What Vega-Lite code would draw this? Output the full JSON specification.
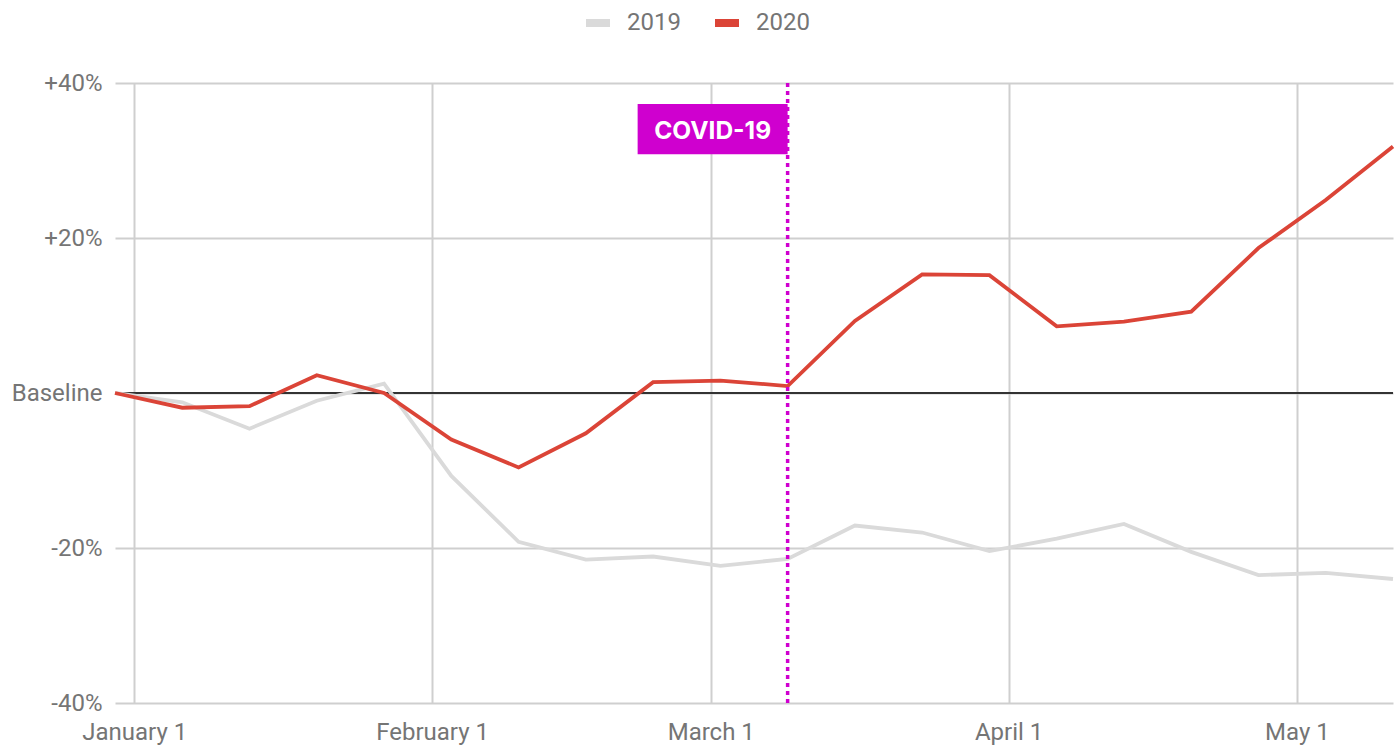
{
  "$schema": "https://vega.github.io/schema/vega-lite/v6.json",
  "width": 1278,
  "height": 620,
  "autosize": {"type": "none"},
  "padding": {"left": 115, "top": 83, "right": 4, "bottom": 44},
  "background": "white",
  "config": {
    "font": "Roboto",
    "view": {"stroke": null},
    "axis": {
      "labelFont": "Roboto",
      "labelFontSize": 24,
      "labelColor": "#757575",
      "grid": true,
      "gridColor": "#cfcfcf",
      "gridWidth": 2,
      "domain": false,
      "ticks": false,
      "title": null
    }
  },
  "datasets": {
    "series": [
      {"date": "2019-12-30", "year": "2019", "change": 0},
      {"date": "2020-01-06", "year": "2019", "change": -1.2},
      {"date": "2020-01-13", "year": "2019", "change": -4.6},
      {"date": "2020-01-20", "year": "2019", "change": -1.0},
      {"date": "2020-01-27", "year": "2019", "change": 1.2},
      {"date": "2020-02-03", "year": "2019", "change": -10.7},
      {"date": "2020-02-10", "year": "2019", "change": -19.2},
      {"date": "2020-02-17", "year": "2019", "change": -21.5},
      {"date": "2020-02-24", "year": "2019", "change": -21.1},
      {"date": "2020-03-02", "year": "2019", "change": -22.3},
      {"date": "2020-03-09", "year": "2019", "change": -21.4},
      {"date": "2020-03-16", "year": "2019", "change": -17.1},
      {"date": "2020-03-23", "year": "2019", "change": -18.0},
      {"date": "2020-03-30", "year": "2019", "change": -20.4},
      {"date": "2020-04-06", "year": "2019", "change": -18.8},
      {"date": "2020-04-13", "year": "2019", "change": -16.9},
      {"date": "2020-04-20", "year": "2019", "change": -20.5},
      {"date": "2020-04-27", "year": "2019", "change": -23.5},
      {"date": "2020-05-04", "year": "2019", "change": -23.2},
      {"date": "2020-05-11", "year": "2019", "change": -24.0},
      {"date": "2019-12-30", "year": "2020", "change": 0},
      {"date": "2020-01-06", "year": "2020", "change": -1.9},
      {"date": "2020-01-13", "year": "2020", "change": -1.7},
      {"date": "2020-01-20", "year": "2020", "change": 2.3},
      {"date": "2020-01-27", "year": "2020", "change": 0},
      {"date": "2020-02-03", "year": "2020", "change": -6.0},
      {"date": "2020-02-10", "year": "2020", "change": -9.6},
      {"date": "2020-02-17", "year": "2020", "change": -5.2},
      {"date": "2020-02-24", "year": "2020", "change": 1.4},
      {"date": "2020-03-02", "year": "2020", "change": 1.6},
      {"date": "2020-03-09", "year": "2020", "change": 0.9},
      {"date": "2020-03-16", "year": "2020", "change": 9.3},
      {"date": "2020-03-23", "year": "2020", "change": 15.3},
      {"date": "2020-03-30", "year": "2020", "change": 15.2},
      {"date": "2020-04-06", "year": "2020", "change": 8.6},
      {"date": "2020-04-13", "year": "2020", "change": 9.2},
      {"date": "2020-04-20", "year": "2020", "change": 10.5},
      {"date": "2020-04-27", "year": "2020", "change": 18.7},
      {"date": "2020-05-04", "year": "2020", "change": 24.9},
      {"date": "2020-05-11", "year": "2020", "change": 31.8}
    ],
    "event": [
      {"date": "2020-03-09", "label": "COVID-19"}
    ]
  },
  "encoding": {
    "x": {
      "field": "date",
      "type": "temporal",
      "scale": {
        "type": "utc",
        "nice": false,
        "domain": [
          {"year": 2019, "month": 12, "date": 30, "utc": true},
          {"year": 2020, "month": 5, "date": 11, "utc": true}
        ]
      },
      "axis": {
        "format": "%B %-d",
        "labelPadding": 17,
        "grid": true,
        "values": [
          {"year": 2020, "month": 1, "date": 1, "utc": true},
          {"year": 2020, "month": 2, "date": 1, "utc": true},
          {"year": 2020, "month": 3, "date": 1, "utc": true},
          {"year": 2020, "month": 4, "date": 1, "utc": true},
          {"year": 2020, "month": 5, "date": 1, "utc": true}
        ]
      }
    }
  },
  "layer": [
    {
      "data": {"name": "series"},
      "mark": {"type": "rule", "color": "#333333", "strokeWidth": 2},
      "encoding": {
        "x": null,
        "y": {"datum": 0}
      }
    },
    {
      "data": {"name": "series"},
      "mark": {"type": "line", "strokeWidth": 3.8, "strokeJoin": "miter"},
      "encoding": {
        "y": {
          "field": "change",
          "type": "quantitative",
          "scale": {"domain": [-40, 40], "nice": false},
          "axis": {
            "grid": true,
            "values": [-40, -20, 0, 20, 40],
            "labelPadding": 13,
            "labelExpr": "datum.value == 0 ? 'Baseline' : (datum.value > 0 ? '+' : '') + datum.value + '%'"
          }
        },
        "color": {
          "field": "year",
          "type": "nominal",
          "scale": {"domain": ["2019", "2020"], "range": ["#dadada", "#db4437"]},
          "legend": {
            "title": null,
            "orient": "none",
            "direction": "horizontal",
            "legendX": 467,
            "legendY": -76,
            "padding": 0,
            "symbolType": "stroke",
            "symbolSize": 576,
            "symbolStrokeWidth": 8,
            "labelFont": "Roboto",
            "labelFontSize": 24,
            "labelColor": "#757575",
            "labelOffset": 13,
            "columnPadding": 18
          }
        }
      }
    },
    {
      "data": {"name": "event"},
      "mark": {"type": "rule", "color": "#cf00cf", "strokeWidth": 3.5, "strokeDash": [4, 4]},
      "encoding": {}
    },
    {
      "data": {"name": "event"},
      "mark": {"type": "rect", "color": "#cf00cf", "xOffset": -150, "x2Offset": 0},
      "encoding": {
        "x2": {"field": "date"},
        "y": {"datum": 37.3},
        "y2": {"datum": 30.8}
      }
    },
    {
      "data": {"name": "event"},
      "mark": {"type": "text", "color": "white", "font": "Inter", "fontWeight": "bold", "fontSize": 24.5, "xOffset": -75, "align": "center", "baseline": "middle"},
      "encoding": {
        "y": {"datum": 33.7},
        "text": {"field": "label"}
      }
    }
  ]
}
